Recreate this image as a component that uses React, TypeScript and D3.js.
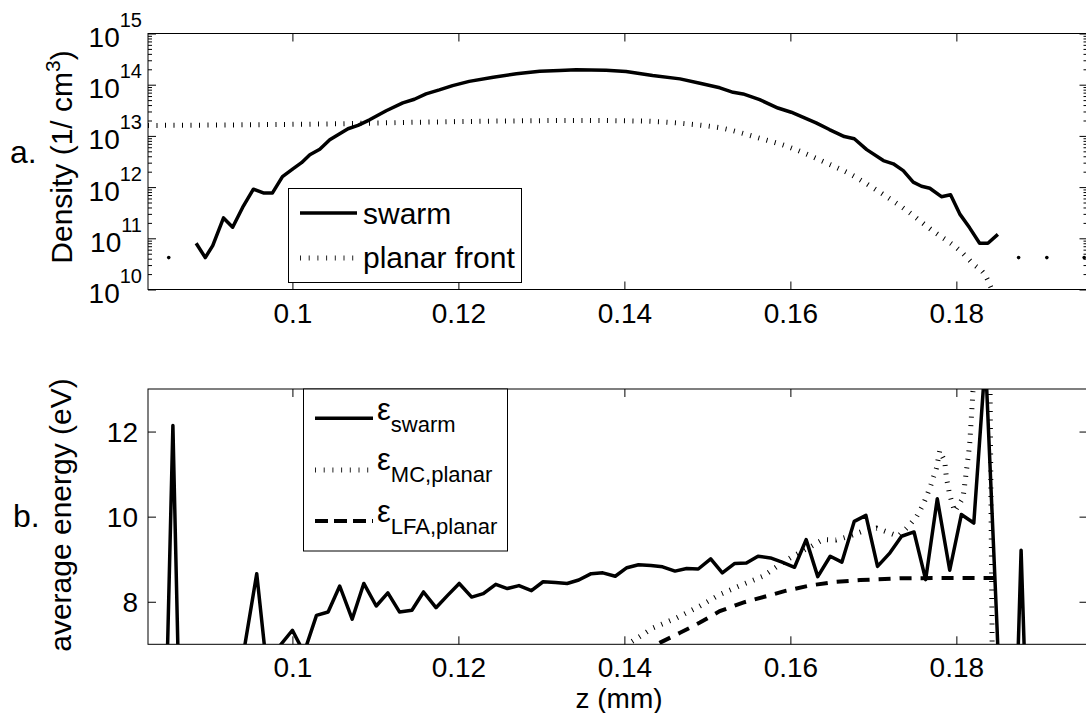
import React, { useRef, useEffect } from 'react';
import * as d3 from 'd3';

// ---- panel a: density (1/cm^3) vs z (mm)
const zSwarmDensity = [0.0884, 0.0895, 0.0904, 0.0917, 0.0928, 0.0940, 0.0953, 0.0965, 0.0976, 0.0988, 0.1001, 0.1011, 0.1021, 0.1033, 0.1045, 0.1057, 0.1067, 0.1079, 0.1093, 0.1113, 0.1133, 0.1147, 0.1161, 0.1177, 0.1193, 0.1213, 0.1242, 0.1270, 0.1298, 0.1322, 0.1342, 0.1378, 0.1402, 0.1434, 0.1467, 0.1491, 0.1515, 0.1531, 0.1543, 0.1563, 0.1585, 0.1601, 0.1631, 0.1647, 0.1665, 0.1677, 0.1692, 0.1712, 0.1724, 0.1736, 0.1748, 0.1758, 0.1768, 0.1782, 0.1793, 0.1804, 0.1816, 0.1828, 0.1838, 0.1850];
const swarmDensity = [8.0e10, 4.2e10, 7.2e10, 2.5e11, 1.65e11, 4.0e11, 9.1e11, 7.7e11, 7.7e11, 1.6e12, 2.3e12, 3.0e12, 4.3e12, 5.5e12, 8.4e12, 1.1e13, 1.38e13, 1.6e13, 2.06e13, 3.1e13, 4.4e13, 5.2e13, 6.6e13, 7.9e13, 9.6e13, 1.16e14, 1.4e14, 1.63e14, 1.84e14, 1.9e14, 1.95e14, 1.92e14, 1.81e14, 1.51e14, 1.3e14, 1.07e14, 8.7e13, 7.1e13, 6.6e13, 5.1e13, 3.5e13, 2.9e13, 1.8e13, 1.33e13, 9.7e12, 8.8e12, 5.4e12, 3.3e12, 2.85e12, 2.1e12, 1.25e12, 1.04e12, 9.5e11, 6.5e11, 7.1e11, 3.0e11, 1.6e11, 8.0e10, 8.0e10, 1.19e11];
const zSwarmDots = [0.0851, 0.1875, 0.1909, 0.1954];
const swarmDots = [4.2e10, 4.2e10, 4.2e10, 4.2e10];
const zPlanarDensity = [0.0826, 0.0950, 0.1050, 0.1150, 0.1250, 0.1350, 0.1420, 0.1475, 0.1521, 0.1559, 0.1599, 0.1637, 0.1675, 0.1708, 0.1740, 0.1771, 0.1804, 0.1820, 0.1836, 0.1845];
const planarDensity = [1.6e13, 1.65e13, 1.72e13, 1.85e13, 1.95e13, 2.0e13, 1.95e13, 1.72e13, 1.38e13, 9.4e12, 6.0e12, 3.3e12, 1.69e12, 7.9e11, 3.5e11, 1.42e11, 5.8e10, 3.2e10, 1.74e10, 8e9];

// ---- panel b: average energy (eV) vs z (mm)
const zEnergy = [0.0841, 0.0856, 0.0870, 0.0885, 0.0899, 0.0913, 0.0928, 0.0942, 0.0957, 0.0971, 0.0985, 0.1000, 0.1014, 0.1029, 0.1043, 0.1057, 0.1072, 0.1086, 0.1101, 0.1115, 0.1129, 0.1144, 0.1158, 0.1173, 0.1187, 0.1201, 0.1216, 0.1230, 0.1245, 0.1259, 0.1273, 0.1288, 0.1302, 0.1317, 0.1331, 0.1345, 0.1360, 0.1374, 0.1389, 0.1403, 0.1417, 0.1432, 0.1446, 0.1461, 0.1475, 0.1489, 0.1504, 0.1518, 0.1533, 0.1547, 0.1561, 0.1576, 0.1590, 0.1605, 0.1619, 0.1633, 0.1648, 0.1662, 0.1677, 0.1691, 0.1705, 0.1720, 0.1734, 0.1749, 0.1763, 0.1777, 0.1792, 0.1806, 0.1821, 0.1835, 0.1849, 0.1864, 0.1878, 0.1893, 0.1907, 0.1921, 0.1936, 0.1950];
const energySwarm = [0, 12.14, 0, 5.2, 5.8, 6.2, 6.5, 6.9, 8.66, 6.1, 6.97, 7.33, 6.8, 7.68, 7.76, 8.37, 7.59, 8.43, 7.90, 8.21, 7.76, 7.80, 8.23, 7.86, 8.15, 8.43, 8.11, 8.19, 8.41, 8.31, 8.38, 8.26, 8.47, 8.45, 8.43, 8.51, 8.66, 8.68, 8.60, 8.80, 8.87, 8.85, 8.82, 8.72, 8.78, 8.77, 9.01, 8.68, 8.90, 8.91, 9.07, 9.03, 8.93, 8.81, 9.46, 8.59, 9.07, 8.93, 9.89, 10.03, 8.83, 9.15, 9.54, 9.64, 8.52, 10.42, 8.74, 10.05, 9.85, 13.7, 7.4, 0, 9.21, 0, 0, 0, 0, 0];
const zMC = [0.1385, 0.1408, 0.1435, 0.1463, 0.1491, 0.1515, 0.1543, 0.1567, 0.1587, 0.1603, 0.1625, 0.1639, 0.1655, 0.1671, 0.1686, 0.1704, 0.1730, 0.1742, 0.1752, 0.1760, 0.1768, 0.1776, 0.1780, 0.1786, 0.1788, 0.1792, 0.1798, 0.1808, 0.1812, 0.1816, 0.1820, 0.1830, 0.1840, 0.1846];
const energyMC = [6.7, 7.05, 7.39, 7.62, 7.90, 8.17, 8.41, 8.60, 8.87, 9.07, 9.30, 9.46, 9.45, 9.54, 9.65, 9.73, 9.54, 9.77, 10.0, 10.28, 10.67, 11.14, 11.55, 11.30, 10.91, 10.51, 10.12, 10.44, 11.06, 11.69, 12.94, 14.5, 14.5, 0];
const zLFA = [0.1420, 0.1443, 0.1467, 0.1491, 0.1515, 0.1543, 0.1571, 0.1595, 0.1623, 0.1651, 0.1684, 0.1732, 0.1792, 0.1848];
const energyLFA = [6.8, 7.04, 7.27, 7.51, 7.78, 7.98, 8.13, 8.26, 8.38, 8.46, 8.51, 8.55, 8.56, 8.56];

const xTicks = [0.1, 0.12, 0.14, 0.16, 0.18];
const energyTicks = [8, 10, 12];
const densityExponents = [10, 11, 12, 13, 14, 15];

const W = 1086;
const H = 713;
const FONT = '"Liberation Sans", Arial, Helvetica, sans-serif';
const DOTTED = '1 7.5';

const App = () => {
  const svgRef = useRef<SVGSVGElement>(null);

  useEffect(() => {
    drawChart();
  }, []);

  const drawChart = () => {
    const svg = d3.select(svgRef.current);
    svg.selectAll('*').remove();
    svg.attr('font-family', FONT);
    svg.append('rect').attr('width', W).attr('height', H).attr('fill', '#fff');

    const left = 148;
    const right = 1087.5;
    const x = d3.scaleLinear().domain([0.0826, 0.1958]).range([left, right]);

    const aTop = 33.5, aBot = 289.5;
    const bTop = 389, bBot = 644.3;
    const yA = d3.scaleLog().domain([1e10, 1e15]).range([aBot, aTop]);
    const yB = d3.scaleLinear().domain([7, 13]).range([bBot, bTop]);

    const defs = svg.append('defs');
    defs.append('clipPath').attr('id', 'clipA').append('rect')
      .attr('x', left).attr('y', aTop).attr('width', right - left).attr('height', aBot - aTop);
    defs.append('clipPath').attr('id', 'clipB').append('rect')
      .attr('x', left).attr('y', bTop).attr('width', right - left).attr('height', bBot - bTop);

    // axes with inward ticks on all four sides
    const frame = (top: number, bot: number, yScale: any, yVals: number[], minor: number[] | null) => {
      const g = svg.append('g').attr('color', '#000');
      const noLab = () => '';
      g.append('g').attr('transform', `translate(0,${bot})`)
        .call(d3.axisBottom(x).tickValues(xTicks).tickSize(-8).tickFormat(d => String(+(+d).toFixed(2))))
        .call(a => a.select('.domain').remove())
        .call(a => a.selectAll('text').attr('y', 33).attr('dy', null)
          .attr('font-size', 28).attr('font-family', FONT).attr('fill', '#000'));
      g.append('g').attr('transform', `translate(0,${top})`)
        .call(d3.axisTop(x).tickValues(xTicks).tickSize(-8).tickFormat(noLab))
        .call(a => a.select('.domain').remove());
      g.append('g').attr('transform', `translate(${left},0)`)
        .call(d3.axisLeft(yScale).tickValues(yVals).tickSize(-8).tickFormat(noLab))
        .call(a => a.select('.domain').remove());
      g.append('g').attr('transform', `translate(${right},0)`)
        .call(d3.axisRight(yScale).tickValues(yVals).tickSize(-8).tickFormat(noLab))
        .call(a => a.select('.domain').remove());
      if (minor) {
        g.append('g').attr('transform', `translate(${left},0)`)
          .call(d3.axisLeft(yScale).tickValues(minor).tickSize(-4).tickFormat(noLab))
          .call(a => a.select('.domain').remove());
        g.append('g').attr('transform', `translate(${right},0)`)
          .call(d3.axisRight(yScale).tickValues(minor).tickSize(-4).tickFormat(noLab))
          .call(a => a.select('.domain').remove());
      }
      g.append('rect').attr('x', left).attr('y', top).attr('width', right - left).attr('height', bot - top)
        .attr('fill', 'none').attr('stroke', '#000').attr('stroke-width', 1);
    };

    // ---------- panel a
    const majorA = densityExponents.map(e => Math.pow(10, e));
    const minorA: number[] = [];
    densityExponents.slice(0, -1).forEach(e => {
      for (let m = 2; m <= 9; m++) minorA.push(m * Math.pow(10, e));
    });

    const plotA = svg.append('g').attr('clip-path', 'url(#clipA)');
    const planarLine = d3.line<number>()
      .x((_, i) => x(zPlanarDensity[i]))
      .y(d => yA(d))
      .curve(d3.curveMonotoneX);
    plotA.append('path').datum(planarDensity).attr('d', planarLine)
      .attr('fill', 'none').attr('stroke', '#000').attr('stroke-width', 5)
      .attr('stroke-dasharray', DOTTED);

    const swarmLine = d3.line<number>()
      .x((_, i) => x(zSwarmDensity[i]))
      .y(d => yA(d));
    plotA.append('path').datum(swarmDensity).attr('d', swarmLine)
      .attr('fill', 'none').attr('stroke', '#000').attr('stroke-width', 3.5)
      .attr('stroke-linejoin', 'round');
    plotA.selectAll('.dot').data(swarmDots).enter().append('circle')
      .attr('cx', (_, i) => x(zSwarmDots[i])).attr('cy', d => yA(d))
      .attr('r', 1.8).attr('fill', '#000');

    frame(aTop, aBot, yA, majorA, minorA);

    // log tick labels 10^n
    densityExponents.forEach(e => {
      const t = svg.append('text')
        .attr('x', 142).attr('y', yA(Math.pow(10, e)) + 13.5)
        .attr('text-anchor', 'end').attr('font-size', 28).attr('fill', '#000');
      t.append('tspan').text('10');
      t.append('tspan').attr('dy', -20).attr('font-size', 20).text(String(e));
    });

    // panel a labels
    svg.append('text').attr('x', 10).attr('y', 163).attr('font-size', 32).text('a.');
    const dl = svg.append('text')
      .attr('transform', 'translate(72,157) rotate(-90)')
      .attr('text-anchor', 'middle').attr('font-size', 30);
    dl.append('tspan').text('Density (1/ cm');
    dl.append('tspan').attr('dy', -12).attr('font-size', 21).text('3');
    dl.append('tspan').attr('dy', 12).text(')');

    // legend a
    const legA = svg.append('g');
    legA.append('rect').attr('x', 288.5).attr('y', 188.5).attr('width', 233).attr('height', 94)
      .attr('fill', '#fff').attr('stroke', '#000').attr('stroke-width', 1);
    legA.append('line').attr('x1', 300).attr('x2', 357).attr('y1', 213).attr('y2', 213)
      .attr('stroke', '#000').attr('stroke-width', 3.5);
    legA.append('text').attr('x', 363).attr('y', 224).attr('font-size', 30).text('swarm');
    legA.append('line').attr('x1', 300).attr('x2', 357).attr('y1', 258).attr('y2', 258)
      .attr('stroke', '#222').attr('stroke-width', 5).attr('stroke-dasharray', '1 7.7');
    legA.append('text').attr('x', 363).attr('y', 268).attr('font-size', 30).text('planar front');

    // ---------- panel b
    const plotB = svg.append('g').attr('clip-path', 'url(#clipB)');
    const mcLine = d3.line<number>().x((_, i) => x(zMC[i])).y(d => yB(d));
    plotB.append('path').datum(energyMC).attr('d', mcLine)
      .attr('fill', 'none').attr('stroke', '#000').attr('stroke-width', 5)
      .attr('stroke-dasharray', DOTTED);
    const lfaLine = d3.line<number>().x((_, i) => x(zLFA[i])).y(d => yB(d));
    plotB.append('path').datum(energyLFA).attr('d', lfaLine)
      .attr('fill', 'none').attr('stroke', '#000').attr('stroke-width', 4)
      .attr('stroke-dasharray', '12 9');
    const swLine = d3.line<number>().x((_, i) => x(zEnergy[i])).y(d => yB(d));
    plotB.append('path').datum(energySwarm).attr('d', swLine)
      .attr('fill', 'none').attr('stroke', '#000').attr('stroke-width', 3.5)
      .attr('stroke-linejoin', 'round');

    frame(bTop, bBot, yB, energyTicks, null);

    energyTicks.forEach(v => {
      svg.append('text').attr('x', 138).attr('y', yB(v) + 10)
        .attr('text-anchor', 'end').attr('font-size', 28).text(String(v));
    });

    svg.append('text').attr('x', 13).attr('y', 527).attr('font-size', 32).text('b.');
    svg.append('text').attr('transform', 'translate(71,515) rotate(-90)')
      .attr('text-anchor', 'middle').attr('font-size', 30).text('average energy (eV)');
    svg.append('text').attr('x', 619).attr('y', 708)
      .attr('text-anchor', 'middle').attr('font-size', 28).text('z (mm)');

    // legend b
    const legB = svg.append('g');
    legB.append('rect').attr('x', 303.5).attr('y', 389).attr('width', 204).attr('height', 162)
      .attr('fill', '#fff').attr('stroke', '#000').attr('stroke-width', 1);
    const entries = [
      { y: 418.3, sub: 'swarm', base: 420 },
      { y: 470, sub: 'MC,planar', base: 470 },
      { y: 521, sub: 'LFA,planar', base: 522 },
    ];
    entries.forEach((e, i) => {
      const ln = legB.append('line').attr('x1', 315).attr('x2', 373).attr('y1', e.y).attr('y2', e.y);
      if (i === 0) ln.attr('stroke', '#000').attr('stroke-width', 3.5);
      if (i === 1) ln.attr('stroke', '#222').attr('stroke-width', 5).attr('stroke-dasharray', '1 7.7');
      if (i === 2) ln.attr('stroke', '#000').attr('stroke-width', 4).attr('stroke-dasharray', '13 6');
      const t = legB.append('text').attr('x', 377).attr('y', e.base).attr('font-size', 31);
      t.append('tspan').text('ε');
      t.append('tspan').attr('dy', 12).attr('font-size', 22).text(e.sub);
    });
  };

  return (
    <svg ref={svgRef} width={W} height={H}
      style={{ position: 'absolute', left: 0, top: 0, display: 'block' }}></svg>
  );
};

export default App;
